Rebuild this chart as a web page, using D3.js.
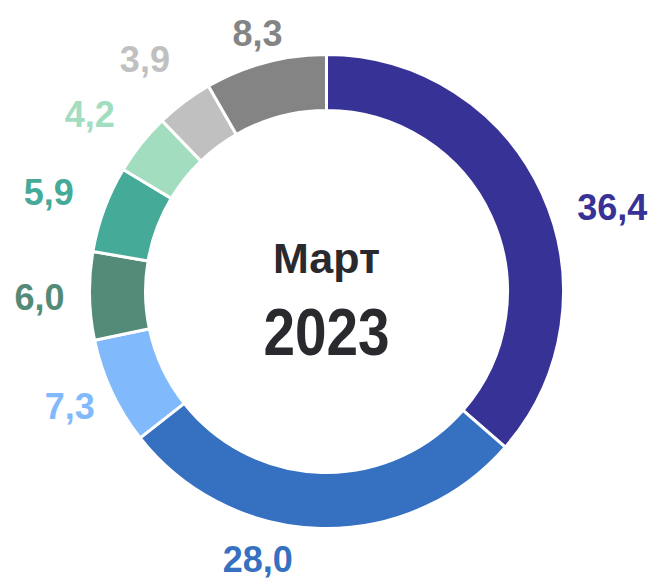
<!DOCTYPE html>
<html lang="ru">
<head>
    <meta charset="UTF-8">
    <title>Март 2023</title>
    <script src="https://cdn.jsdelivr.net/npm/d3@7/dist/d3.min.js"></script>
    <style>
        body { margin: 0; background: #fff; }
    </style>
</head>
<body>
    <script>
        // width and height
        var w = 651;
        var h = 580;

        // data, clockwise from the top
        var values = [36.4, 28.0, 7.3, 6.0, 5.9, 4.2, 3.9, 8.3];
        var labels = ["36,4", "28,0", "7,3", "6,0", "5,9", "4,2", "3,9", "8,3"];
        var colors = ["#373296", "#3670C1", "#80BAFC", "#548B78", "#46AA98", "#A1DDBE", "#C0C0C0", "#848484"];
        var centerTitle = ["Март", "2023"];

        // label placement tweaks: angle shift (degrees) and distance from centre
        var labelShift = [8, 13, 1, 0, -0.6, -1.6, -1.1, 0];
        var labelDist = [298, 276, 281, 287, 295, 296, 295, 268];

        var cx = 326.5, cy = 291.5;
        var outerRadius = 237;
        var innerRadius = 181;

        var arc = d3.arc()
                    .innerRadius(innerRadius)
                    .outerRadius(outerRadius);

        var pie = d3.pie().sort(null);

        var svg = d3.select("body")
                    .append("svg")
                    .attr("width", w)
                    .attr("height", h);

        var g = svg.append("g")
                   .attr("transform", "translate(" + cx + "," + cy + ")");

        var arcs = g.selectAll("g.arc")
                    .data(pie(values))
                    .enter()
                    .append("g")
                    .attr("class", "arc");

        arcs.append("path")
            .attr("d", arc)
            .attr("fill", function(d, i) { return colors[i]; })
            .attr("stroke", "#fff")
            .attr("stroke-width", 3);

        // value labels outside the ring
        arcs.append("text")
            .text(function(d, i) { return labels[i]; })
            .attr("transform", function(d, i) {
                var a = (d.startAngle + d.endAngle) / 2 + labelShift[i] * Math.PI / 180;
                var r = labelDist[i];
                return "translate(" + (r * Math.sin(a)) + "," + (-r * Math.cos(a)) + ")";
            })
            .attr("text-anchor", "middle")
            .attr("dy", "0.36em")
            .attr("font-family", "'Liberation Sans', Arial, sans-serif")
            .attr("font-weight", "bold")
            .attr("font-size", "36px")
            .attr("fill", function(d, i) { return colors[i]; });

        // centre title
        g.append("text")
            .text(centerTitle[0])
            .attr("y", -19)
            .attr("text-anchor", "middle")
            .attr("font-family", "'Liberation Sans', Arial, sans-serif")
            .attr("font-weight", "bold")
            .attr("font-size", "43px")
            .attr("fill", "#2A2A2E");

        g.append("text")
            .text(centerTitle[1])
            .attr("transform", "translate(0,63.5) scale(0.86,1)")
            .attr("text-anchor", "middle")
            .attr("font-family", "'Liberation Sans', Arial, sans-serif")
            .attr("font-weight", "bold")
            .attr("font-size", "66px")
            .attr("fill", "#2A2A2E");
    </script>
</body>
</html>
